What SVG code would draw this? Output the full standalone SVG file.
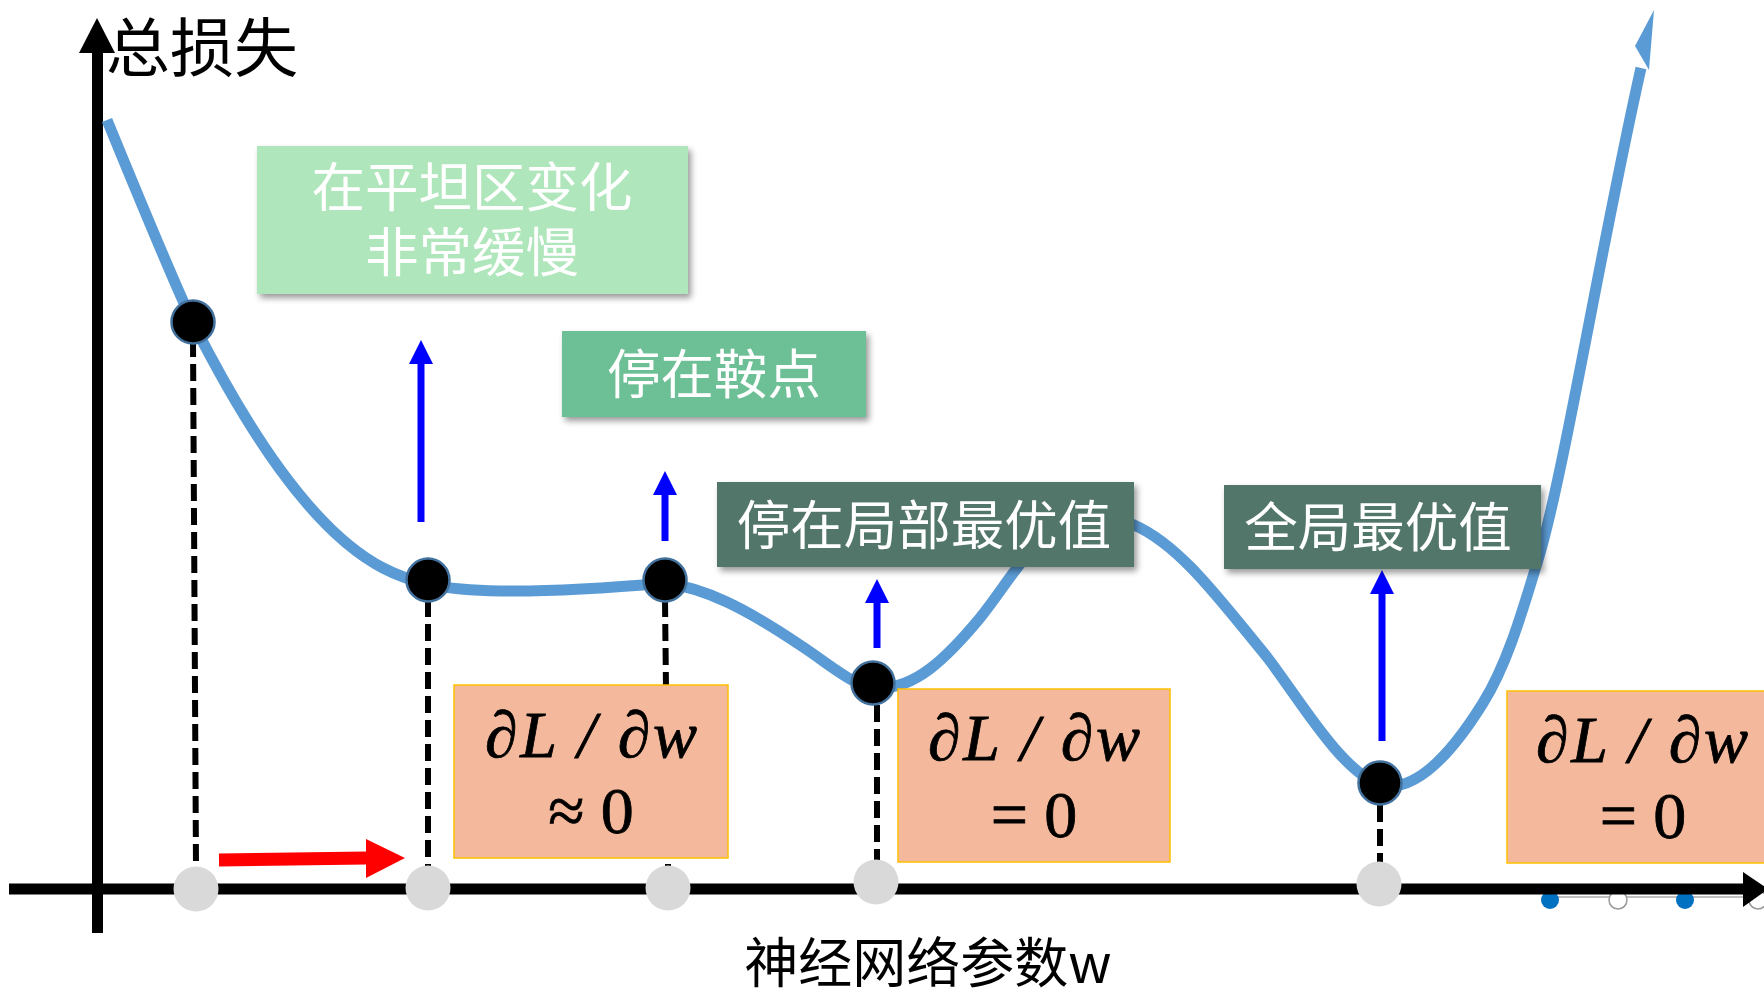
<svg xmlns="http://www.w3.org/2000/svg" width="1764" height="996" viewBox="0 0 1764 996">
<style>
.axis{stroke:#000;stroke-width:11;fill:none}
.dash{stroke:#000;stroke-width:6;stroke-dasharray:17 7;fill:none}
.gray{fill:#d9d9d9}
.curve{stroke:#5b9bd5;stroke-width:11;fill:none;stroke-linecap:butt}
.dot{fill:#000;stroke:#41719c;stroke-width:2.5}
.barrow{stroke:#0000ff;stroke-width:7;fill:none}
.cjk{font-family:"Noto Sans CJK SC","Noto Sans",sans-serif}
.btxt{fill:#fff;font-size:53.5px;text-anchor:middle}
.math{font-family:"Liberation Serif","DejaVu Serif",serif;font-size:66px;fill:#000;stroke:#000;stroke-width:0.8;text-anchor:middle}
.obox{fill:#f4b89c;stroke:#ffc000;stroke-width:1.5}
</style>
<defs>
<filter id="sh" x="-10%" y="-20%" width="125%" height="150%">
<feDropShadow dx="3" dy="4" stdDeviation="3" flood-color="#000" flood-opacity="0.4"/>
</filter>
<marker id="bh" viewBox="0 0 24 24" refX="0" refY="12" markerWidth="24" markerHeight="24" markerUnits="userSpaceOnUse" orient="auto">
<path d="M0,0 L24,12 L0,24 z" fill="#0000ff"/>
</marker>
</defs>
<rect width="1764" height="996" fill="#fff"/>

<g id="slider">
<line x1="1550" y1="897" x2="1764" y2="897" stroke="#aaa" stroke-width="1.5"/>
<circle cx="1550" cy="900" r="9" fill="#0070c0"/>
<circle cx="1618" cy="900" r="9" fill="#fff" stroke="#999" stroke-width="1.5"/>
<circle cx="1685" cy="900" r="9" fill="#0070c0"/>
<circle cx="1758" cy="900" r="9" fill="#fff" stroke="#999" stroke-width="1.5"/>
</g>

<g id="axes">
<line class="axis" x1="97.5" y1="933" x2="97.5" y2="50"/>
<polygon points="79,53 115,53 97,18" fill="#000"/>
<line class="axis" x1="9" y1="889" x2="1745" y2="889"/>
<polygon points="1743,872 1768,889 1743,907" fill="#000"/>
<text class="cjk" x="106" y="71" font-size="64" fill="#000">总损失</text>
<text class="cjk" x="928" y="983" font-size="54" fill="#000" text-anchor="middle">神经网络参数w</text>
</g>

<g id="connectors">
<line class="dash" x1="193" y1="340" x2="196" y2="867"/>
<line class="dash" x1="428" y1="600" x2="428" y2="866"/>
<line class="dash" x1="665" y1="600" x2="668" y2="866"/>
<line class="dash" x1="877" y1="705" x2="877" y2="862"/>
<line class="dash" x1="1380" y1="805" x2="1380" y2="862"/>
<line class="barrow" x1="421" y1="522" x2="421" y2="364" marker-end="url(#bh)"/>
<line class="barrow" x1="665" y1="541" x2="665" y2="495" marker-end="url(#bh)"/>
<line class="barrow" x1="877" y1="648" x2="877" y2="603" marker-end="url(#bh)"/>
<line class="barrow" x1="1382" y1="741" x2="1382" y2="594" marker-end="url(#bh)"/>
<line x1="219" y1="860" x2="367" y2="858" stroke="#ff0000" stroke-width="13"/>
<polygon points="366,839 405,858 366,878" fill="#ff0000"/>
</g>

<g id="axis-points">
<circle class="gray" cx="196" cy="889" r="22.5"/>
<circle class="gray" cx="428" cy="888" r="22.5"/>
<circle class="gray" cx="668" cy="888" r="22.5"/>
<circle class="gray" cx="876" cy="882" r="22.5"/>
<circle class="gray" cx="1379" cy="884" r="22.5"/>
</g>

<g id="loss-curve">
<path class="curve" d="M107,120 C150,225 180,295 193,323 C245,425 310,530 383,568 C410,582 440,590 500,591 C560,592 620,587 665,583 C705,588 745,608 800,645 C835,668 855,688 880,688 C915,688 945,660 980,618 C1000,593 1010,575 1030,552 C1060,520 1090,510 1134,525 C1180,545 1220,600 1267,657 C1300,700 1340,770 1380,785 C1420,795 1460,740 1483,703 C1505,668 1520,620 1537,563 C1562,485 1600,250 1641,68"/>
<polygon points="1635,46 1654,10 1649,70" fill="#5b9bd5"/>
</g>

<g id="dots">
<circle class="dot" cx="193" cy="322" r="21.5"/>
<circle class="dot" cx="428" cy="580" r="21.5"/>
<circle class="dot" cx="665" cy="580" r="21.5"/>
<circle class="dot" cx="873" cy="683" r="21.5"/>
<circle class="dot" cx="1380" cy="783" r="21.5"/>
</g>

<g id="box-flat">
<rect x="257" y="146" width="431" height="148" fill="#b0e6bb" filter="url(#sh)"/>
<text class="cjk btxt" x="472" y="207">在平坦区变化</text>
<text class="cjk btxt" x="472" y="272">非常缓慢</text>
</g>

<g id="box-saddle">
<rect x="562" y="331" width="304" height="86" fill="#6dbf96" filter="url(#sh)"/>
<text class="cjk btxt" x="714" y="394">停在鞍点</text>
</g>

<g id="box-local">
<rect x="717" y="482" width="417" height="85" fill="#52766a" filter="url(#sh)"/>
<text class="cjk btxt" x="924" y="545">停在局部最优值</text>
</g>

<g id="box-global">
<rect x="1224" y="485" width="317" height="84" fill="#52766a" filter="url(#sh)"/>
<text class="cjk btxt" x="1378" y="547">全局最优值</text>
</g>

<g id="grad-1">
<rect class="obox" x="454" y="685" width="274" height="173"/>
<text class="math" x="591" y="757" font-style="italic" textLength="212" lengthAdjust="spacing">∂L / ∂w</text>
<text class="math" x="591" y="833">≈ 0</text>
</g>

<g id="grad-2">
<rect class="obox" x="898" y="689" width="272" height="173"/>
<text class="math" x="1034" y="760" font-style="italic" textLength="212" lengthAdjust="spacing">∂L / ∂w</text>
<text class="math" x="1034" y="837">= 0</text>
</g>

<g id="grad-3">
<rect class="obox" x="1507" y="691" width="275" height="172"/>
<text class="math" x="1642" y="762" font-style="italic" textLength="212" lengthAdjust="spacing">∂L / ∂w</text>
<text class="math" x="1643" y="838">= 0</text>
</g>
</svg>
